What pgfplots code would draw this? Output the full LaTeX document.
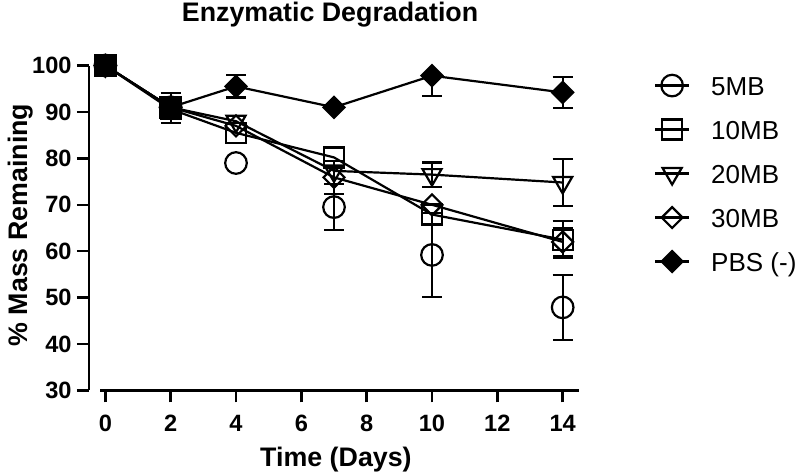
\documentclass[border=0pt]{standalone}
\usepackage{fontspec}
\setmainfont{Liberation Sans}
\usepackage{pgfplots}
\pgfplotsset{compat=1.18}
\usepackage{pgfplotstable}

% mean values
\pgfplotstableread{
x y
0 100
2 91
4 79
7 69.5
10 59.2
14 47.9
}\fivemb
\pgfplotstableread{
x y
0 100
2 90.6
4 85.5
7 80.2
10 67.9
14 62.5
}\tenmb
\pgfplotstableread{
x y
0 100
2 91
4 88
7 77.3
10 76.5
14 74.8
}\twentymb
\pgfplotstableread{
x y
0 100
2 91
4 87
7 75.9
10 70
14 62
}\thirtymb
\pgfplotstableread{
x y
0 100
2 91
4 95.5
7 91
10 97.8
14 94.2
}\pbs
% error bars that are longer than the symbols (mean, plus, minus)
\pgfplotstableread{
x y ep em
2 90.85 3.15 3.15
7 69.5 5 5
10 59.2 9.1 9.1
14 47.9 7 7
}\fivemberr
\pgfplotstableread{
x y ep em
14 62.5 4 4
}\tenmberr
\pgfplotstableread{
x y ep em
10 76.5 2.6 2.6
14 74.8 5 5
}\twentymberr
\pgfplotstableread{
x y ep em
7 75.9 3.5 3.5
14 62 3 3
}\thirtymberr
\pgfplotstableread{
x y ep em
4 95.5 2.4 2.4
10 97.8 0 4.3
14 94.2 3.4 3.4
}\pbserr

\begin{document}
\begin{tikzpicture}
\path[use as bounding box] (0,0) rectangle (400pt,238pt);
\begin{axis}[
  at={(44.5pt,42.75pt)}, anchor=south west,
  scale only axis, width=245pt, height=162.5pt,
  xmin=-0.5, xmax=14.5, ymin=30, ymax=100,
  axis lines=left, axis line style={draw=none},
  xtick={0,2,...,14}, ytick={30,40,...,100},
  tick align=outside, major tick length=6pt,
  tick style={line width=1.2pt, black},
  clip=false,
  /pgf/number format/assume math mode=true,
  tick label style={font=\bfseries\fontsize{11.8}{12}\selectfont, inner sep=0pt},
  yticklabel style={xshift=-2.5pt},
  xticklabel style={yshift=-6.25pt},
  every axis title shift=0pt,
  title={Enzymatic Degradation},
  title style={font=\bfseries\fontsize{13.4}{14}\selectfont, at={(rel axis cs:0.492,1.1354)}, anchor=base, inner sep=0pt},
  xlabel={Time (Days)},
  xlabel style={font=\bfseries\fontsize{13.4}{14}\selectfont, at={(rel axis cs:0.504,-0.2354)}, anchor=base, inner sep=0pt},
  ylabel={\% Mass Remaining},
  ylabel style={font=\bfseries\fontsize{13.4}{14}\selectfont, at={(rel axis cs:-0.1265,0.509)}, anchor=base, inner sep=0pt},
  every axis plot/.append style={black, line width=1.1pt},
  legend image code/.code={\draw[black, line width=1.1pt] (0pt,0pt) -- (17pt,0pt); \draw[#1] plot coordinates {(8.5pt,0pt)};},
  legend cell align=left,
  legend style={at={(rel axis cs:1.1531,1.006)}, anchor=north west, draw=none, fill=none,
    inner sep=0pt, outer sep=0pt, column sep=10.5pt, row sep=0pt,
    font=\fontsize{13}{15}\selectfont,
    nodes={inner sep=0pt, text height=9.5pt, text depth=0pt, minimum height=22pt}},
  errplot/.style={forget plot, draw=none, mark=none,
    error bars/.cd, y dir=both, y explicit,
    error bar style={draw=black, line width=1.1pt, solid},
    error mark options={draw=black, rotate=90, mark size=5pt, line width=1.1pt}},
]
\draw[line width=1.2pt] (axis cs:-0.5,30) -- (axis cs:-0.5,100);
\draw[line width=1.2pt] (axis cs:-0.16,30) -- (axis cs:14.5,30);

\addplot[errplot] table[x=x, y=y, y error plus=ep, y error minus=em] {\fivemberr};
\addplot[errplot] table[x=x, y=y, y error plus=ep, y error minus=em] {\tenmberr};
\addplot[errplot] table[x=x, y=y, y error plus=ep, y error minus=em] {\twentymberr};
\addplot[errplot] table[x=x, y=y, y error plus=ep, y error minus=em] {\thirtymberr};
\addplot[errplot] table[x=x, y=y, y error plus=ep, y error minus=em] {\pbserr};

\addplot[only marks, mark=o, mark size=5.4pt, mark options={solid, fill=none}]
  table[x=x, y=y] {\fivemb};
\addlegendentry{5MB}
\addplot[mark=square, mark size=5pt, mark options={solid, fill=none}]
  table[x=x, y=y] {\tenmb};
\addlegendentry{10MB}
\addplot[mark=triangle, mark size=5.5pt, mark options={solid, fill=none, rotate=180}]
  table[x=x, y=y] {\twentymb};
\addlegendentry{20MB}
\addplot[mark=square, mark size=3.7pt, mark options={solid, fill=none, rotate=45}]
  table[x=x, y=y] {\thirtymb};
\addlegendentry{30MB}
\addplot[mark=square*, mark size=3.7pt, mark options={solid, fill=black, rotate=45}]
  table[x=x, y=y] {\pbs};
\addlegendentry{PBS (-)}
\addplot[only marks, mark=square*, mark size=5.3pt, mark options={fill=black}, forget plot]
  coordinates {(0,100) (2,91)};
\end{axis}
\end{tikzpicture}
\end{document}
